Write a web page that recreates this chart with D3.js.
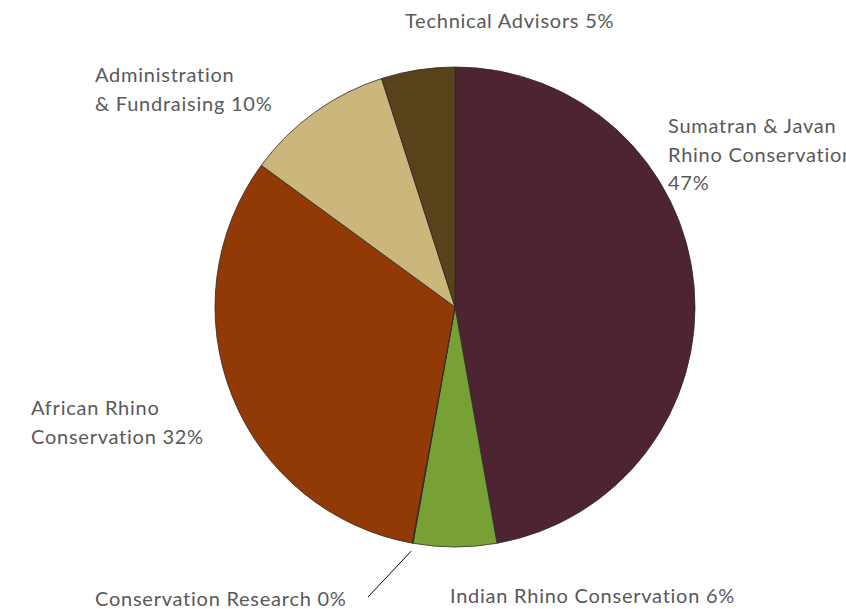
<!DOCTYPE html>
<html><head><meta charset="utf-8">
<script src="https://cdn.jsdelivr.net/npm/d3@7"></script>
<style>body{margin:0;background:#fff;overflow:hidden}svg{display:block}</style>
</head><body>
<svg id="c" width="846" height="609"></svg>
<script>
const categories = ["Sumatran & Javan Rhino Conservation","Indian Rhino Conservation","Conservation Research","African Rhino Conservation","Administration & Fundraising","Technical Advisors"];
const values = [47.2, 5.6, 0.05, 32.2, 10.0, 4.95];
const percentLabels = ["47%","6%","0%","32%","10%","5%"];
const labelLines = [
  ["Sumatran & Javan","Rhino Conservation","47%"],
  ["Indian Rhino Conservation 6%"],
  ["Conservation Research 0%"],
  ["African Rhino","Conservation 32%"],
  ["Administration","& Fundraising 10%"],
  ["Technical Advisors 5%"]
];
const colors = ["#4e2433","#77a134","#923a06","#923a06","#cbb67b","#574219"];

const svg = d3.select("#c");
const cx = 455, cy = 307, R = 240;
const g = svg.append("g").attr("transform",`translate(${cx},${cy})`);
const pie = d3.pie().sort(null).value(d=>d)(values);
const arc = d3.arc().innerRadius(0).outerRadius(R);
g.selectAll("path").data(pie).join("path")
  .attr("d",arc).attr("fill",(d,i)=>colors[i])
  .attr("stroke","#2a2a2a").attr("stroke-width",0.8);

// label anchor positions (left x, first baseline y)
const labelPos = [[668,133],[450,603],[95,606],[31,415],[95,82],[405,28]];
const lh = 28.5;
const tg = svg.append("g").attr("font-family","'Century Gothic','Lato','Open Sans',sans-serif")
  .attr("font-size",20).attr("letter-spacing",0.75).attr("fill","#595959");
labelLines.forEach((lines,i)=>{
  const t = tg.append("text").attr("x",labelPos[i][0]).attr("y",labelPos[i][1]);
  lines.forEach((s,j)=>t.append("tspan").attr("x",labelPos[i][0]).attr("dy",j===0?0:lh).text(s));
});
// leader line for the tiny slice
const mid = (pie[2].startAngle+pie[2].endAngle)/2;
const p1 = [cx+Math.sin(mid)*(R+8), cy-Math.cos(mid)*(R+8)];
svg.append("line").attr("x1",p1[0]).attr("y1",p1[1]).attr("x2",368).attr("y2",597)
  .attr("stroke","#000").attr("stroke-width",1);
</script>
</body></html>
